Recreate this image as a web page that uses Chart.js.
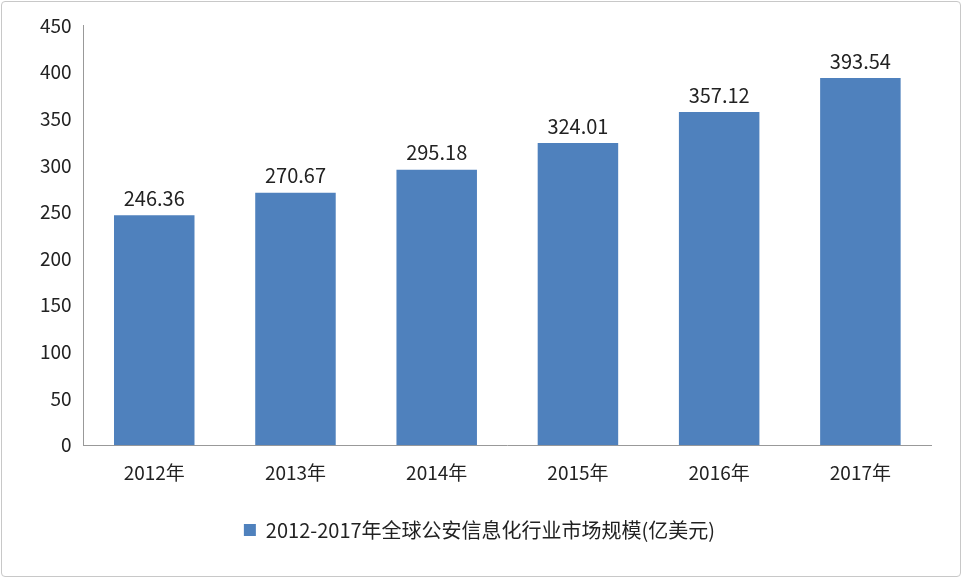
<!DOCTYPE html>
<html><head><meta charset="utf-8">
<script src="https://cdn.jsdelivr.net/npm/chart.js@4"></script>
<style>
html,body{margin:0;padding:0;background:#fff;}
#wrap{position:absolute;left:1px;top:1px;width:960px;height:576px;border:1px solid #c8c8c8;border-radius:4px;box-sizing:border-box;}
canvas{display:block;}
</style></head><body>
<div id="wrap"><canvas id="c" width="958" height="574"></canvas></div>
<script>
const categories = ["2012年","2013年","2014年","2015年","2016年","2017年"];
const values = [246.36,270.67,295.18,324.01,357.12,393.54];
const seriesName = "2012-2017年全球公安信息化行业市场规模(亿美元)";
const yTicks = [0,50,100,150,200,250,300,350,400,450];
const FONT = "'Noto Sans CJK SC','DejaVu Sans',sans-serif";
const labelPlugin = {
  id:'lbl',
  afterDatasetsDraw(chart){
    const ctx=chart.ctx, meta=chart.getDatasetMeta(0);
    ctx.save();ctx.font="20px "+FONT;ctx.fillStyle="#222";ctx.textAlign="center";ctx.textBaseline="bottom";
    meta.data.forEach((b,i)=>ctx.fillText(values[i].toFixed(2),b.x,b.y-7));
    ctx.restore();
  }
};
new Chart(document.getElementById('c'),{
  type:'bar',
  data:{labels:categories,datasets:[{label:seriesName,data:values,backgroundColor:'#4f81bd',categoryPercentage:0.57,barPercentage:1}]},
  options:{
    responsive:false,animation:false,
    layout:{padding:{left:26,right:29,top:22,bottom:26}},
    plugins:{
      legend:{position:'bottom',labels:{font:{family:FONT,size:20},color:'#222',boxWidth:12,boxHeight:12,padding:20}},
      tooltip:{enabled:false}
    },
    scales:{
      x:{grid:{display:false,drawTicks:false},border:{color:'#999'},ticks:{font:{family:FONT,size:19},color:'#222',padding:16}},
      y:{min:0,max:450,afterBuildTicks:s=>{s.ticks=yTicks.map(v=>({value:v}));},
         grid:{display:false,drawTicks:false},border:{color:'#999'},
         ticks:{font:{family:FONT,size:19},color:'#222',padding:12}}
    }
  },
  plugins:[labelPlugin]
});
</script></body></html>
